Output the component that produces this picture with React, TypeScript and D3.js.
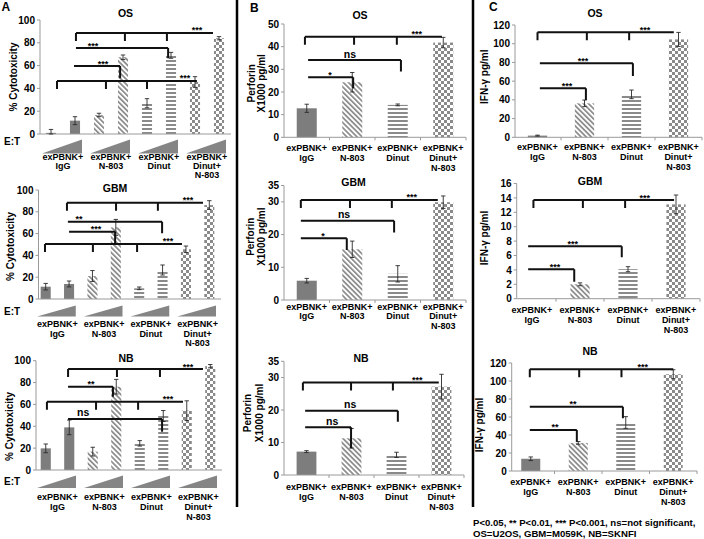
import React from "react";
import * as d3 from "d3";

const FONT = "'Liberation Sans', Arial, Helvetica, sans-serif";

// ---------- categories ----------
const groupLabels: string[][] = [
  ["exPBNK+", "IgG"],
  ["exPBNK+", "N-803"],
  ["exPBNK+", "Dinut"],
  ["exPBNK+", "Dinut+", "N-803"],
];
const patternsA = ["solid", "solid", "diag", "diag", "horiz", "horiz", "check", "check"];
const patternsBC = ["solid", "diag", "horiz", "check"];

// ---------- Panel A: % cytotoxicity (two E:T ratios per group) ----------
const cytoTicks = [0, 20, 40, 60, 80, 100];
const cytoOS = [1, 11.7, 16.7, 67.3, 27, 69, 45.6, 84];
const cytoOSErr = [3, 3.5, 1.5, 2, 4, 2.6, 4.7, 1.4];
const cytoGBM = [11.3, 13.8, 21.1, 65.7, 9.8, 26.6, 45.6, 86.2];
const cytoGBMErr = [3, 2.7, 5, 7.3, 1.2, 4.6, 3, 4];
const cytoNB = [19.8, 39, 16.8, 76.2, 24.4, 49.4, 54.3, 95];
const cytoNBErr = [4, 6.7, 4, 6.7, 2.5, 5, 9, 1.5];

// ---------- Panel B: perforin (x1000 pg/ml) ----------
const perfTicksOS = [0, 10, 20, 30, 40, 50];
const perfTicks35 = [0, 10, 20, 30, 35];
const perfOS = [12.8, 24.3, 14.3, 41.8];
const perfOSErr = [1.8, 4.3, 0.4, 2.3];
const perfGBM = [5.9, 15.5, 8.0, 29.9];
const perfGBMErr = [0.7, 2.5, 2.5, 1.9];
const perfNB = [7.2, 11.3, 6.2, 27.2];
const perfNBErr = [0.3, 3, 0.8, 3.8];

// ---------- Panel C: IFN-gamma (pg/ml) ----------
const ifnTicks120 = [0, 20, 40, 60, 80, 100, 120];
const ifnTicks16 = [0, 2, 4, 6, 8, 10, 12, 14, 16];
const ifnOS = [1.8, 36.3, 45.9, 104.6];
const ifnOSErr = [0.5, 3.5, 4.6, 7.5];
const ifnGBM = [0, 2.0, 4.1, 13.1];
const ifnGBMErr = [0, 0.2, 0.35, 1.3];
const ifnNB = [13.6, 31.2, 53.9, 107.5];
const ifnNBErr = [2, 1.5, 6.5, 5];

// ---------- significance brackets (bar index positions, value level) ----------
type Bracket = { y: number; xs: number[]; label: string; at: number; dropTo?: number };
const brAOS: Bracket[] = [
  { y: 88.6, xs: [1.04, 3.08, 4.83, 6.75], label: "***", at: 6.08 },
  { y: 75.4, xs: [1.04, 4.88], label: "***", at: 1.75, dropTo: 66.4 },
  { y: 59.6, xs: [0.96, 2.88], label: "***", at: 2.17, dropTo: 48.9 },
  { y: 46.5, xs: [0.25, 2.29, 4.0, 6.08], label: "***", at: 5.58 },
];
const brAGBM: Bracket[] = [
  { y: 88.3, xs: [0.91, 3.01, 4.8, 6.73], label: "***", at: 6.09 },
  { y: 70.9, xs: [0.95, 4.98], label: "**", at: 1.43, dropTo: 60.3 },
  { y: 61.7, xs: [1.0, 2.97], label: "***", at: 2.15, dropTo: 51.1 },
  { y: 50.5, xs: [-0.03, 2.02, 3.91, 5.83], label: "***", at: 5.23 },
];
const brANB: Bracket[] = [
  { y: 92.4, xs: [0.95, 3.03, 4.86, 6.69], label: "***", at: 6.05 },
  { y: 76.2, xs: [0.95, 2.86], label: "**", at: 1.93, dropTo: 67.1 },
  { y: 62.5, xs: [0.05, 2.14, 3.93, 5.84], label: "***", at: 5.2 },
  { y: 46.7, xs: [0.95, 4.95], label: "ns", at: 1.59, dropTo: 35 },
];
const brBOS: Bracket[] = [
  { y: 44.4, xs: [-0.04, 1.04, 1.98, 2.97], label: "***", at: 2.42 },
  { y: 34.1, xs: [0.03, 2.07], label: "ns", at: 0.95, dropTo: 29 },
  { y: 26.5, xs: [0.03, 1.02], label: "*", at: 0.51, dropTo: 21.6 },
];
const brBGBM: Bracket[] = [
  { y: 30.6, xs: [-0.13, 0.95, 1.87, 2.88], label: "***", at: 2.31 },
  { y: 24.2, xs: [-0.13, 1.92], label: "ns", at: 0.82, dropTo: 20.6 },
  { y: 18.9, xs: [-0.13, 0.88], label: "*", at: 0.36, dropTo: 15.3 },
];
const brBNB: Bracket[] = [
  { y: 28.5, xs: [-0.08, 0.99, 1.92, 2.94], label: "***", at: 2.46 },
  { y: 19.8, xs: [-0.03, 2.03], label: "ns", at: 0.97, dropTo: 16.4 },
  { y: 14.7, xs: [-0.03, 0.99], label: "ns", at: 0.57, dropTo: 8.2 },
];
const brCOS: Bracket[] = [
  { y: 112.2, xs: [0, 1.05, 1.95, 2.9], label: "***", at: 2.29 },
  { y: 79.1, xs: [0.05, 2.03], label: "***", at: 0.97, dropTo: 65.5 },
  { y: 52.4, xs: [0.05, 1.03], label: "***", at: 0.63, dropTo: 39.9 },
];
const brCGBM: Bracket[] = [
  { y: 13.7, xs: [0.03, 1.06, 1.94, 2.96], label: "***", at: 2.35 },
  { y: 7.3, xs: [-0.08, 1.87], label: "***", at: 0.85, dropTo: 5.75 },
  { y: 4.1, xs: [-0.08, 0.88], label: "***", at: 0.48, dropTo: 2.36 },
];
const brCNB: Bracket[] = [
  { y: 113, xs: [-0.02, 1.02, 1.91, 3.0], label: "***", at: 2.36 },
  { y: 71.4, xs: [-0.02, 1.94], label: "**", at: 0.89, dropTo: 58.6 },
  { y: 45.6, xs: [-0.02, 0.97], label: "**", at: 0.51, dropTo: 32.6 },
];

const footnote = [
  "P<0.05, ** P<0.01, *** P<0.001, ns=not significant,",
  "OS=U2OS, GBM=M059K, NB=SKNFI",
];

type PanelCfg = {
  title: string; titleX: number; titleY: number;
  values: number[]; errs: number[]; pats: string[];
  ticks: number[]; yMax: number;
  x0: number; x1: number; axisX: number; yBase: number; yTop: number;
  barFrac: number;
  brackets: Bracket[];
  yLabel: string[]; yLabelX: number[]; yLabelY: number;
  catY: number; catLH: number;
  wedge?: { top: number; bottom: number; etY: number };
  boundaryTicks: boolean;
};

const GRAY = "#8a8a8a";
const SOLID = "#7d7d7d";

function fillFor(p: string) {
  if (p === "solid") return SOLID;
  return `url(#pat-${p})`;
}

function Panel({ c }: { c: PanelCfg }) {
  const n = c.values.length;
  const pad = 1 - c.barFrac;
  const band = d3.scaleBand<number>().domain(d3.range(n)).range([c.x0, c.x1]).paddingInner(pad).paddingOuter(pad / 2);
  const step = band.step();
  const bw = band.bandwidth();
  const cx = (i: number) => (band(0) as number) + bw / 2 + i * step;
  const y = d3.scaleLinear().domain([0, c.yMax]).range([c.yBase, c.yTop]);
  const grouped = n === 8;
  const groupCenter = (g: number) => (grouped ? (cx(2 * g) + cx(2 * g + 1)) / 2 : cx(g));
  const line = d3.line<[number, number]>();

  return (
    <g>
      <text x={c.titleX} y={c.titleY} textAnchor="middle" fontSize={10.5} fontWeight="bold" fontFamily={FONT}>{c.title}</text>
      {/* y axis */}
      <line x1={c.axisX} x2={c.axisX} y1={y(c.yMax)} y2={c.yBase} stroke="#9a9a9a" strokeWidth={1} />
      {c.ticks.map((t) => (
        <g key={t}>
          <line x1={c.axisX - 3} x2={c.axisX} y1={y(t)} y2={y(t)} stroke="#9a9a9a" />
          <text x={c.axisX - 5} y={y(t) + 3.6} textAnchor="end" fontSize={10} fontWeight="bold" fontFamily={FONT}>{t}</text>
        </g>
      ))}
      {c.yLabel.map((s, k) => (
        <text key={k} transform={`translate(${c.yLabelX[k]},${c.yLabelY}) rotate(-90)`} textAnchor="middle" fontSize={10} fontWeight="bold" fontFamily={FONT}>{s}</text>
      ))}
      {/* bars */}
      {c.values.map((v, i) => (
        v > 0 ? <rect key={i} x={band(i)} y={y(v)} width={bw} height={c.yBase - y(v)} fill={fillFor(c.pats[i])} /> : null
      ))}
      {/* x axis */}
      <line x1={c.axisX} x2={c.x1} y1={c.yBase} y2={c.yBase} stroke="#9a9a9a" strokeWidth={1} />
      {c.boundaryTicks && d3.range(1, n + 1).map((k) => (
        <line key={k} x1={c.x0 + k * step} x2={c.x0 + k * step} y1={c.yBase} y2={c.yBase + 3} stroke="#9a9a9a" />
      ))}
      {/* error bars */}
      {c.values.map((v, i) => {
        const e = c.errs[i];
        if (!e) return null;
        const x = cx(i);
        return (
          <g key={i} stroke="#2a2a2a" strokeWidth={0.9}>
            <line x1={x} x2={x} y1={y(Math.max(0, v - e))} y2={y(v + e)} />
            <line x1={x - 2.2} x2={x + 2.2} y1={y(v + e)} y2={y(v + e)} />
            <line x1={x - 2.2} x2={x + 2.2} y1={y(Math.max(0, v - e))} y2={y(Math.max(0, v - e))} />
          </g>
        );
      })}
      {/* wedges for E:T */}
      {c.wedge && d3.range(4).map((g) => {
        const l = cx(2 * g) - step / 2 + 3;
        const r = cx(2 * g + 1) + step / 2 - 5;
        const w = c.wedge!;
        return <path key={g} d={`M${l},${w.bottom}L${r},${w.top}L${r},${w.bottom}Z`} fill="#858585" />;
      })}
      {c.wedge && (
        <text x={4} y={c.wedge.etY} fontSize={10} fontWeight="bold" fontFamily={FONT}>E:T</text>
      )}
      {/* category labels */}
      {groupLabels.map((lines, g) => (
        <text key={g} x={groupCenter(g)} y={c.catY} textAnchor="middle" fontSize={9} fontWeight="bold" fontFamily={FONT}>
          {lines.map((s, k) => (
            <tspan key={k} x={groupCenter(g)} dy={k === 0 ? 0 : c.catLH}>{s}</tspan>
          ))}
        </text>
      ))}
      {/* significance brackets */}
      {c.brackets.map((b, k) => {
        const yy = y(b.y);
        const xs = b.xs.map(cx);
        const multi = xs.length > 2;
        const paths: string[] = [];
        paths.push(line([[xs[0], yy], [xs[xs.length - 1], yy]]) as string);
        if (multi) {
          xs.slice(0, -1).forEach((x) => paths.push(line([[x, yy], [x, yy + 8]]) as string));
        } else {
          const xe = xs[1];
          paths.push(line([[xe, yy], [xe, y(b.dropTo as number)]]) as string);
        }
        const isNs = b.label === "ns";
        return (
          <g key={k}>
            <path d={paths.join("")} stroke="#111" strokeWidth={2} fill="none" />
            <text x={cx(b.at)} y={isNs ? yy - 2.5 : yy + 0.5} textAnchor="middle" fontSize={isNs ? 10.5 : 9} fontWeight="bold" fontFamily={FONT}>{b.label}</text>
          </g>
        );
      })}
    </g>
  );
}

const panels: PanelCfg[] = [
  // ---- A ----
  {
    title: "OS", titleX: 125.5, titleY: 16.5, values: cytoOS, errs: cytoOSErr, pats: patternsA,
    ticks: cytoTicks, yMax: 100, x0: 39, x1: 231, axisX: 40, yBase: 134, yTop: 20, barFrac: 0.42,
    brackets: brAOS, yLabel: ["% Cytotoxicity"], yLabelX: [17], yLabelY: 77,
    catY: 160, catLH: 9, wedge: { top: 139.5, bottom: 153.5, etY: 145 }, boundaryTicks: false,
  },
  {
    title: "GBM", titleX: 115, titleY: 191.5, values: cytoGBM, errs: cytoGBMErr, pats: patternsA,
    ticks: cytoTicks, yMax: 100, x0: 34, x1: 221, axisX: 38.5, yBase: 299, yTop: 190, barFrac: 0.43,
    brackets: brAGBM, yLabel: ["% Cytotoxicity"], yLabelX: [13.5], yLabelY: 246.5,
    catY: 327.3, catLH: 9.3, wedge: { top: 305.5, bottom: 316.5, etY: 315 }, boundaryTicks: false,
  },
  {
    title: "NB", titleX: 126, titleY: 361.5, values: cytoNB, errs: cytoNBErr, pats: patternsA,
    ticks: cytoTicks, yMax: 100, x0: 34, x1: 222, axisX: 36, yBase: 470, yTop: 360.7, barFrac: 0.43,
    brackets: brANB, yLabel: ["% Cytotoxicity"], yLabelX: [12.5], yLabelY: 426.5,
    catY: 500, catLH: 10, wedge: { top: 475.5, bottom: 488, etY: 485 }, boundaryTicks: false,
  },
  // ---- B ----
  {
    title: "OS", titleX: 360, titleY: 18.5, values: perfOS, errs: perfOSErr, pats: patternsBC,
    ticks: perfTicksOS, yMax: 50, x0: 284, x1: 466, axisX: 284, yBase: 137.3, yTop: 24, barFrac: 0.44,
    brackets: brBOS, yLabel: ["Perforin", "X1000 pg/ml"], yLabelX: [255, 265], yLabelY: 83.3,
    catY: 150.5, catLH: 10, boundaryTicks: true,
  },
  {
    title: "GBM", titleX: 353.5, titleY: 186, values: perfGBM, errs: perfGBMErr, pats: patternsBC,
    ticks: perfTicks35, yMax: 35, x0: 284, x1: 466, axisX: 284, yBase: 300, yTop: 185.5, barFrac: 0.44,
    brackets: brBGBM, yLabel: ["Perforin", "X1000 pg/ml"], yLabelX: [254.3, 264.5], yLabelY: 236.7,
    catY: 310, catLH: 9.3, boundaryTicks: true,
  },
  {
    title: "NB", titleX: 361, titleY: 361.5, values: perfNB, errs: perfNBErr, pats: patternsBC,
    ticks: perfTicks35, yMax: 35, x0: 284, x1: 464, axisX: 284, yBase: 475, yTop: 361.3, barFrac: 0.44,
    brackets: brBNB, yLabel: ["Perforin", "X1000 pg/ml"], yLabelX: [251, 262.5], yLabelY: 413,
    catY: 490, catLH: 10, boundaryTicks: true,
  },
  // ---- C ----
  {
    title: "OS", titleX: 595, titleY: 16.5, values: ifnOS, errs: ifnOSErr, pats: patternsBC,
    ticks: ifnTicks120, yMax: 120, x0: 514, x1: 702, axisX: 515, yBase: 137.3, yTop: 25, barFrac: 0.41,
    brackets: brCOS, yLabel: ["IFN-γ pg/ml"], yLabelX: [487.5], yLabelY: 76.7,
    catY: 150, catLH: 10, boundaryTicks: true,
  },
  {
    title: "GBM", titleX: 590, titleY: 185, values: ifnGBM, errs: ifnGBMErr, pats: patternsBC,
    ticks: ifnTicks16, yMax: 16, x0: 508, x1: 700, axisX: 516.7, yBase: 298.7, yTop: 183.5, barFrac: 0.4,
    brackets: brCGBM, yLabel: ["IFN-γ pg/ml"], yLabelX: [487.5], yLabelY: 238,
    catY: 312.5, catLH: 10, boundaryTicks: true,
  },
  {
    title: "NB", titleX: 590, titleY: 355, values: ifnNB, errs: ifnNBErr, pats: patternsBC,
    ticks: ifnTicks120, yMax: 120, x0: 507, x1: 697, axisX: 511.7, yBase: 471, yTop: 363, barFrac: 0.4,
    brackets: brCNB, yLabel: ["IFN-γ pg/ml"], yLabelX: [482.5], yLabelY: 425,
    catY: 485, catLH: 10, boundaryTicks: true,
  },
];

export default function App() {
  return (
    <svg width={704} height={539} style={{ position: "absolute", left: 0, top: 0, background: "#fff" }} fontFamily={FONT}>
      <defs>
        <pattern id="pat-diag" patternUnits="userSpaceOnUse" width={3.6} height={3.6} patternTransform="rotate(-45)">
          <rect width={3.6} height={3.6} fill="#fff" />
          <rect width={1.7} height={3.6} fill={GRAY} />
        </pattern>
        <pattern id="pat-horiz" patternUnits="userSpaceOnUse" width={4} height={4}>
          <rect width={4} height={4} fill="#fff" />
          <rect width={4} height={2} fill={GRAY} />
        </pattern>
        <pattern id="pat-check" patternUnits="userSpaceOnUse" width={6} height={6}>
          <rect width={6} height={6} fill="#fff" />
          <rect width={3} height={3} fill={GRAY} />
          <rect x={3} y={3} width={3} height={3} fill={GRAY} />
        </pattern>
      </defs>
      <rect width={704} height={539} fill="#fff" />
      <text x={1.5} y={10.5} fontSize={12} fontWeight="bold">A</text>
      <text x={250} y={12} fontSize={12} fontWeight="bold">B</text>
      <text x={489} y={10.5} fontSize={12} fontWeight="bold">C</text>
      <line x1={237} x2={237} y1={0} y2={507} stroke="#000" strokeWidth={2.5} />
      <line x1={473} x2={473} y1={0} y2={507} stroke="#000" strokeWidth={2.5} />
      {panels.map((p, i) => <Panel key={i} c={p} />)}
      {footnote.map((s, k) => (
        <text key={k} x={473} y={526 + k * 11} fontSize={9.6} fontWeight="bold">{s}</text>
      ))}
    </svg>
  );
}
